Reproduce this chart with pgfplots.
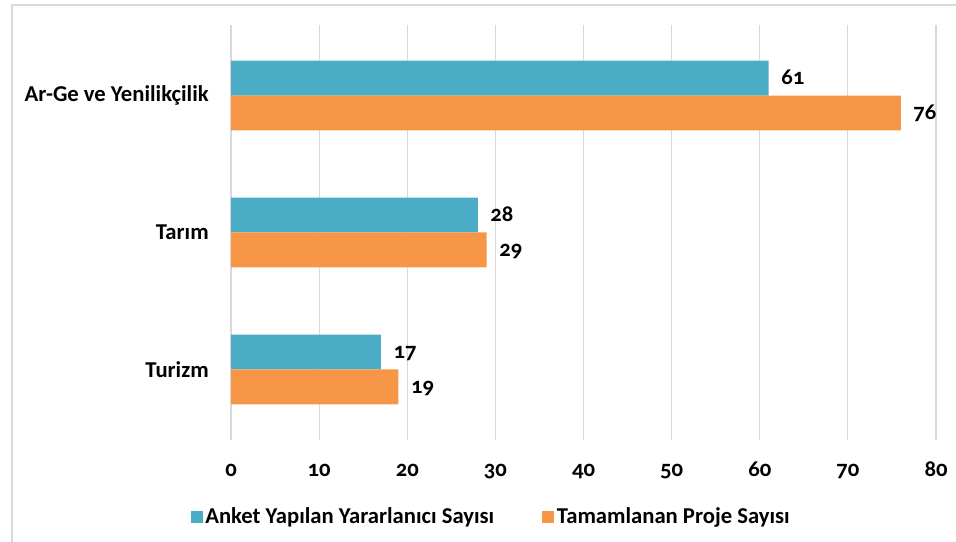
\documentclass[border=0pt]{standalone}
\usepackage{pgfplots}
\pgfplotsset{compat=1.18}
\usepackage{fontspec}
\setmainfont{Carlito}[Numbers=OldStyle]
\definecolor{cblue}{HTML}{4BACC6}
\definecolor{corange}{HTML}{F79646}
\definecolor{gridgray}{HTML}{D9D9D9}
\begin{document}
\begin{tikzpicture}
\path[use as bounding box] (0,0) rectangle (717pt,406.5pt);
\draw[gridgray, line width=1pt] (9pt,0) -- (9pt,402.75pt) -- (717pt,402.75pt);
\begin{axis}[
  at={(173.25pt,76.5pt)}, anchor=south west,
  scale only axis, width=528.75pt, height=311.25pt,
  xmin=0, xmax=80, ymin=-0.515, ymax=2.515,
  xtick={0,10,...,80},
  ytick={0,1,2},
  yticklabels={Turizm,Tarım,Ar-Ge ve Yenilikçilik},
  xmajorgrids, major grid style={gridgray, line width=0.8pt},
  axis x line*=bottom,
  x axis line style={draw=none},
  axis y line*=left,
  y axis line style={gridgray, line width=0.8pt, -},
  major tick length=0pt,
  /pgf/number format/assume math mode=true,
  xticklabel style={anchor=base, yshift=-27.4pt, font=\bfseries\fontsize{17}{20}\selectfont},
  yticklabel style={anchor=east, inner xsep=0pt, xshift=-16.5pt, font=\bfseries\fontsize{17}{20}\selectfont},
  xbar, bar width=0.255,
  nodes near coords,
  nodes near coords style={font=\bfseries\fontsize{17}{20}\selectfont, black, anchor=base west, xshift=6pt, yshift=-5pt},
  legend columns=2,
  legend style={at={(0.3695,-0.185)}, anchor=center, draw=none, fill=none,
    font=\bfseries\fontsize{17}{20}\selectfont,
    /tikz/every even column/.append style={column sep=34pt}},
  legend image code/.code={\fill[#1] (0pt,-4.5pt) rectangle (9pt,4.5pt);},
]
\addplot[fill=cblue, draw=none, bar shift=0.1275] coordinates {(17,0) (28,1) (61,2)};
\addlegendentry{Anket Yapılan Yararlanıcı Sayısı}
\addplot[fill=corange, draw=none, bar shift=-0.1275] coordinates {(19,0) (29,1) (76,2)};
\addlegendentry{Tamamlanan Proje Sayısı}
\end{axis}
\end{tikzpicture}
\end{document}
